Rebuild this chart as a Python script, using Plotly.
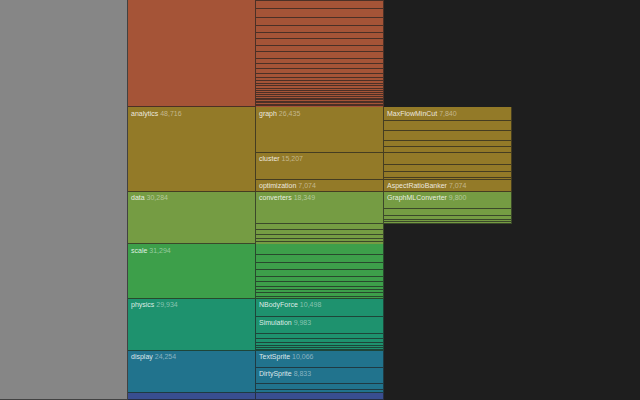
import math
import plotly.graph_objects as go

# ---------------- data (flare hierarchy, visible part) ----------------
root_name = "flare"
top_names = ["query", "analytics", "data", "scale", "physics", "display", "flex"]
top_values = [89721, 48716, 30284, 31294, 29934, 24254, 4116]
top_rainbow_slot = [3, 4, 5, 6, 7, 8, 9]   # slot in an 11-step rainbow

query_names = ["methods", "Query", "Expression", "Comparison", "DateUtil", "StringUtil",
               "Arithmetic", "Match", "CompositeExpression", "ExpressionIterator", "Fn",
               "BinaryExpression", "If", "IsA", "Variance", "AggregateExpression", "Range",
               "Not", "Literal", "Variable", "Xor", "And", "Or", "Distinct", "Average",
               "Maximum", "Minimum", "Sum", "Count"]
query_values = [14326, 13896, 5130, 5103, 4141, 4130, 3891, 3748, 3677, 3617, 3240,
                2893, 2732, 2039, 1876, 1616, 1594, 1554, 1214, 1124, 1101, 1027, 970,
                933, 891, 843, 843, 791, 781]

analytics_names = ["graph", "cluster", "optimization"]
analytics_values = [26435, 15207, 7074]

data_names = ["converters", "DataSource", "DataUtil", "DataSchema", "DataField",
              "DataTable", "DataSet"]
data_values = [18349, 3331, 3322, 2165, 1759, 772, 586]

scale_names = ["TimeScale", "QuantitativeScale", "Scale", "OrdinalScale", "LogScale",
               "QuantileScale", "IScaleMap", "ScaleType", "RootScale", "LinearScale"]
scale_values = [5833, 4839, 4268, 3770, 3151, 2435, 2105, 1821, 1756, 1316]

physics_names = ["NBodyForce", "Simulation", "Particle", "Spring", "SpringForce",
                 "GravityForce", "DragForce", "IForce"]
physics_values = [10498, 9983, 2822, 2213, 1681, 1336, 1082, 319]

display_names = ["TextSprite", "DirtySprite", "RectSprite", "LineSprite"]
display_values = [10066, 8833, 3623, 1732]

flex_names = ["FlareVis"]
flex_values = [4116]

graph_names = ["MaxFlowMinCut", "ShortestPaths", "LinkDistance",
               "BetweennessCentrality", "SpanningTree"]
graph_values = [7840, 5914, 5731, 3534, 3416]

cluster_names = ["HierarchicalCluster", "AgglomerativeCluster", "CommunityStructure",
                 "MergeEdge"]
cluster_values = [6714, 3938, 3812, 743]

optimization_names = ["AspectRatioBanker"]
optimization_values = [7074]

converters_names = ["GraphMLConverter", "DelimitedTextConverter", "JSONConverter",
                    "IDataConverter", "Converters"]
converters_values = [9800, 4294, 2220, 1314, 721]

view_top = 27900  # value offset (from the start of "query") at the top of the window

# ---------------- hierarchy assembly ----------------
children = {
    root_name: (top_names, top_values),
    "query": (query_names, query_values),
    "analytics": (analytics_names, analytics_values),
    "data": (data_names, data_values),
    "scale": (scale_names, scale_values),
    "physics": (physics_names, physics_values),
    "display": (display_names, display_values),
    "flex": (flex_names, flex_values),
    "graph": (graph_names, graph_values),
    "cluster": (cluster_names, cluster_values),
    "optimization": (optimization_names, optimization_values),
    "converters": (converters_names, converters_values),
}

W, H = 640, 400
BG = "#1e1e1e"
total = sum(top_values)
view_bottom = total
per_px = (view_bottom - view_top) / H
col_w = 1.0
gap_x = 1.0 / 128.0


def rainbow(t):
    ts = abs(t - 0.5)
    h = 360 * t - 100
    s = 1.5 - 1.5 * ts
    l = 0.8 - 0.9 * ts
    hr = (h + 120) * math.pi / 180
    a = s * l * (1 - l)
    ch, sh = math.cos(hr), math.sin(hr)
    r = 255 * (l + a * (-0.14861 * ch + 1.78277 * sh))
    g = 255 * (l + a * (-0.29227 * ch - 0.90649 * sh))
    b = 255 * (l + a * (1.97294 * ch))
    cl = lambda v: int(round(max(0, min(255, v))))
    return cl(r), cl(g), cl(b)


top_color = {}
for n, slot in zip(top_names, top_rainbow_slot):
    top_color[n] = rainbow(slot / 10)

nodes = []  # (name, value, depth, y0, y1, color)


def layout(name, value, depth, y0, color):
    nodes.append((name, value, depth, y0, y0 + value, color))
    if name in children:
        cur = y0
        for cn, cv in zip(*children[name]):
            c = top_color[cn] if depth == 0 else color
            layout(cn, cv, depth + 1, cur, c)
            cur += cv


layout(root_name, total, 0, 0, (204, 204, 204))

A_UNDER = 0.2
A_MAIN = (0.6 - A_UNDER) / (1 - A_UNDER)

ux, uy, ubase, ucol = [], [], [], []
bx, by, bbase, bcol = [], [], [], []
tx, ty, tt = [], [], []
for name, value, depth, y0, y1, col in nodes:
    span = y1 - y0
    g = min(per_px, span / 2)
    ux.append(depth * col_w + col_w / 2)
    ubase.append(y0)
    uy.append(span)
    ucol.append("rgba(%d,%d,%d,%.3f)" % (col + (A_UNDER,)))
    bx.append(depth * col_w + (col_w - gap_x) / 2)
    bbase.append(y0)
    by.append(span - g)
    bcol.append("rgba(%d,%d,%d,%.3f)" % (col + (A_MAIN,)))
    hpx = span / per_px
    if hpx > 12 and y0 >= view_top:
        tx.append(depth * col_w + 3.0 / 128)
        ty.append(y0 + 6.5 * per_px)
        tt.append("%s <span style='color:rgba(255,255,255,0.55)'>%s</span>"
                  % (name, format(value, ",d")))

fig = go.Figure()
fig.add_trace(go.Bar(
    x=ux, y=uy, base=ubase, width=col_w,
    marker=dict(color=ucol, line=dict(width=0)),
    hoverinfo="skip", showlegend=False,
))
fig.add_trace(go.Bar(
    x=bx, y=by, base=bbase, width=col_w - gap_x,
    marker=dict(color=bcol, line=dict(width=0)),
    hoverinfo="skip", showlegend=False,
))
fig.add_trace(go.Scatter(
    x=tx, y=ty, text=tt, mode="text", textposition="middle right",
    textfont=dict(size=7, color="rgba(255,255,255,0.85)",
                  family="Liberation Sans, Arial, sans-serif"),
    hoverinfo="skip", showlegend=False, cliponaxis=False,
))
fig.update_layout(
    width=W, height=H, margin=dict(l=0, r=0, t=0, b=0),
    paper_bgcolor=BG, plot_bgcolor=BG, barmode="overlay", bargap=0,
    xaxis=dict(range=[0, 5], visible=False, fixedrange=True),
    yaxis=dict(range=[view_bottom, view_top], visible=False, fixedrange=True),
)
fig.write_html("out.html")
